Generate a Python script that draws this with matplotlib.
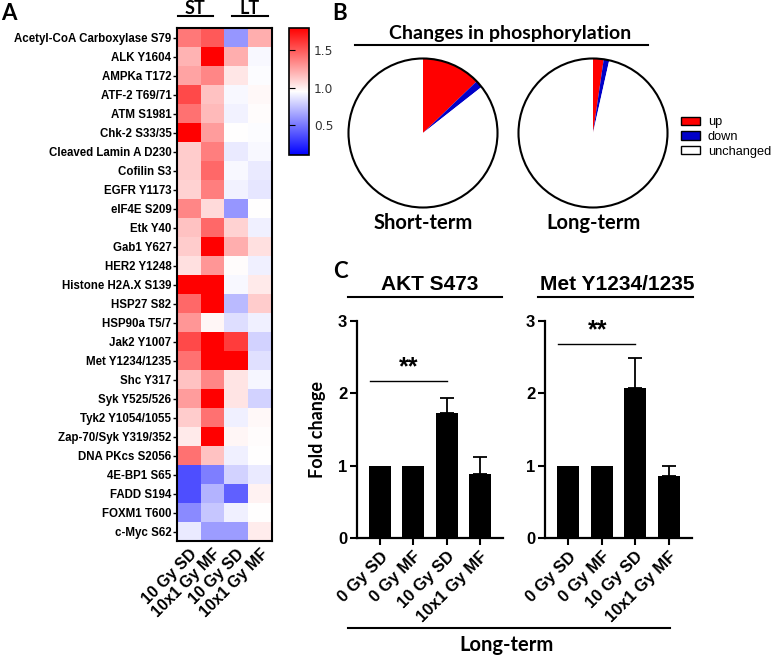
import numpy as np
import matplotlib
matplotlib.use("Agg")
import matplotlib.pyplot as plt
from matplotlib.patches import Patch, Circle
from matplotlib.lines import Line2D

# heatmap data (fold change, ST / LT)
proteins = ["Acetyl-CoA Carboxylase S79", "ALK Y1604", "AMPKa T172", "ATF-2 T69/71",
            "ATM S1981", "Chk-2 S33/35", "Cleaved Lamin A D230", "Cofilin S3",
            "EGFR Y1173", "eIF4E S209", "Etk Y40", "Gab1 Y627", "HER2 Y1248",
            "Histone H2A.X S139", "HSP27 S82", "HSP90a T5/7", "Jak2 Y1007",
            "Met Y1234/1235", "Shc Y317", "Syk Y525/526", "Tyk2 Y1054/1055",
            "Zap-70/Syk Y319/352", "DNA PKcs S2056", "4E-BP1 S65", "FADD S194",
            "FOXM1 T600", "c-Myc S62"]
st_sd = [1.40, 1.20, 1.25, 1.55, 1.42, 1.85, 1.12, 1.12, 1.10, 1.35, 1.15, 1.12, 1.05,
         1.85, 1.45, 1.30, 1.55, 1.42, 1.15, 1.28, 1.12, 1.02, 1.42, 0.36, 0.36, 0.56, 0.88]
st_mf = [1.50, 1.85, 1.35, 1.15, 1.18, 1.28, 1.38, 1.45, 1.38, 1.07, 1.45, 1.85, 1.30,
         1.85, 1.85, 0.98, 1.85, 1.85, 1.35, 1.85, 1.42, 1.85, 1.15, 0.52, 0.70, 0.76, 0.62]
lt_sd = [0.60, 1.22, 1.03, 0.93, 0.91, 0.95, 0.88, 0.93, 0.91, 0.60, 1.10, 1.22, 0.96,
         0.93, 0.72, 0.84, 1.60, 1.85, 1.04, 1.04, 0.90, 0.98, 0.90, 0.80, 0.42, 0.90, 0.62]
lt_mf = [1.22, 0.93, 0.94, 0.97, 0.96, 0.94, 0.93, 0.88, 0.87, 0.95, 0.90, 1.05, 0.90,
         1.02, 1.12, 0.90, 0.80, 0.85, 0.92, 0.80, 0.97, 0.96, 0.95, 0.88, 0.99, 0.95, 1.01]
heat_cols = ["10 Gy SD", "10x1 Gy MF", "10 Gy SD", "10x1 Gy MF"]

# pies (% of proteins)
pie_labels = ["up", "down", "unchanged"]
short_term = [12.8, 1.6, 85.6]
long_term = [2.3, 1.2, 96.5]
pie_colors = ["#ff0000", "#0000c8", "#ffffff"]

# bar charts
conditions = ["0 Gy SD", "0 Gy MF", "10 Gy SD", "10x1 Gy MF"]
akt_mean = [1.0, 1.0, 1.73, 0.88]
akt_err = [0.0, 0.0, 0.20, 0.24]
met_mean = [1.0, 1.0, 2.07, 0.86]
met_err = [0.0, 0.0, 0.42, 0.14]

W, H = 784, 656
ARIAL = "Liberation Sans"
CALI = "Lato"

fig = plt.figure(figsize=(W / 100, H / 100), dpi=100)


def box(x0, y0, x1, y1):
    return [x0 / W, 1 - y1 / H, (x1 - x0) / W, (y1 - y0) / H]


def ftext(x, y, s, **kw):
    fig.text(x / W, 1 - y / H, s, ha="center", va="center", **kw)


def fline(x0, x1, y, lw=1.5):
    fig.add_artist(Line2D([x0 / W, x1 / W], [1 - y / H, 1 - y / H],
                          transform=fig.transFigure, color="black", lw=lw))


# ---- A: heatmap
ax = fig.add_axes(box(177, 28, 272, 541))
data = np.column_stack([st_sd, st_mf, lt_sd, lt_mf])
im = ax.imshow(data, cmap="bwr", vmin=0.1, vmax=1.8, aspect="auto", interpolation="nearest")
ax.set_yticks(range(len(proteins)))
ax.set_yticklabels(proteins, fontsize=8.3, fontweight="bold", family=ARIAL)
ax.set_xticks(range(4))
ax.set_xticklabels(heat_cols, rotation=45, ha="right", rotation_mode="anchor",
                   fontsize=11.5, fontweight="bold", family=ARIAL)
ax.tick_params(axis="y", length=3, width=1, pad=1)
ax.tick_params(axis="x", length=0, pad=4)
for s in ax.spines.values():
    s.set_linewidth(1.5)

cax = fig.add_axes(box(289, 28, 309, 155))
cb = fig.colorbar(im, cax=cax, ticks=[0.5, 1.0, 1.5])
cb.outline.set_linewidth(1.2)
cax.tick_params(left=True, right=False, direction="in", length=4, labelsize=8.8,
                labelcolor="#333333", labelright=True, labelleft=False)

ftext(195, 8, "ST", fontsize=13, fontweight="bold", family=CALI)
ftext(250, 8, "LT", fontsize=13, fontweight="bold", family=CALI)
fline(178, 213, 16)
fline(232, 268, 16)

# ---- B: pies
for vals, cx, name in [(short_term, 423, "Short-term"), (long_term, 593, "Long-term")]:
    pa = fig.add_axes(box(cx - 76, 57, cx + 76, 209))
    pa.pie(vals, colors=pie_colors, startangle=90, counterclock=False,
           wedgeprops=dict(linewidth=0))
    pa.add_patch(Circle((0, 0), 1, fill=False, ec="black", lw=1.5))
    pa.set_xlim(-1.02, 1.02)
    pa.set_ylim(-1.02, 1.02)
    pa.set_aspect("equal")
    pa.axis("off")
    ftext(cx, 223, name, fontsize=14.5, fontweight="bold", family=CALI)

ftext(510, 33, "Changes in phosphorylation", fontsize=14, fontweight="bold", family=CALI)
fline(355, 648, 45)

handles = [Patch(facecolor=c, edgecolor="black", lw=1) for c in pie_colors]
fig.legend(handles, pie_labels, loc="center left", bbox_to_anchor=(681 / W, 1 - 137 / H),
           frameon=False, prop=dict(family=ARIAL, size=9.2), handlelength=1.5,
           handleheight=0.65, labelspacing=0.2, handletextpad=0.6, borderpad=0,
           borderaxespad=0)

# ---- C: bar charts
x = np.arange(len(conditions))
for mean, err, x0, x1, title, tx, lx0, lx1, sig_y in [
        (akt_mean, akt_err, 357, 503, "AKT S473", 430, 348, 502, 2.17),
        (met_mean, met_err, 545, 692, "Met Y1234/1235", 617, 538, 693, 2.68)]:
    bx = fig.add_axes(box(x0, 321, x1, 538))
    bx.bar(x, mean, width=0.66, color="black")
    bx.errorbar(x[2:], mean[2:], yerr=[np.zeros(2), err[2:]], fmt="none",
                ecolor="black", elinewidth=1.3, capsize=5, capthick=1.3)
    bx.set_xlim(-0.7, 3.7)
    bx.set_ylim(0, 3)
    bx.set_yticks([0, 1, 2, 3])
    bx.set_xticks(x)
    bx.set_xticklabels(conditions, rotation=45, ha="right", rotation_mode="anchor",
                       fontsize=12, fontweight="bold", family=ARIAL)
    for lab in bx.get_yticklabels():
        lab.set_fontweight("bold")
        lab.set_family(ARIAL)
        lab.set_fontsize(12)
    bx.tick_params(length=5, width=1.5)
    bx.tick_params(axis="x", pad=3)
    bx.tick_params(axis="y", pad=2)
    for s in ["top", "right"]:
        bx.spines[s].set_visible(False)
    for s in ["left", "bottom"]:
        bx.spines[s].set_linewidth(1.6)
    bx.plot([-0.3, 2.0], [sig_y, sig_y], color="black", lw=1)
    bx.text(0.87, sig_y + 0.02, "**", ha="center", va="bottom", fontsize=18,
            fontweight="bold", family=ARIAL)
    ftext(tx, 285, title, fontsize=15, fontweight="bold", family=ARIAL)
    fline(lx0, lx1, 297)

fig.text(318 / W, 1 - 430 / H, "Fold change", rotation=90, ha="center", va="center",
         fontsize=13, fontweight="bold", family=CALI)
fline(348, 670, 628)
ftext(507, 645, "Long-term", fontsize=14.5, fontweight="bold", family=CALI)

# panel letters
ftext(9, 14, "A", fontsize=16, fontweight="bold", family=CALI)
ftext(340, 13, "B", fontsize=16, fontweight="bold", family=CALI)
ftext(340, 272, "C", fontsize=16, fontweight="bold", family=CALI)

fig.savefig("out.png", dpi=100)
